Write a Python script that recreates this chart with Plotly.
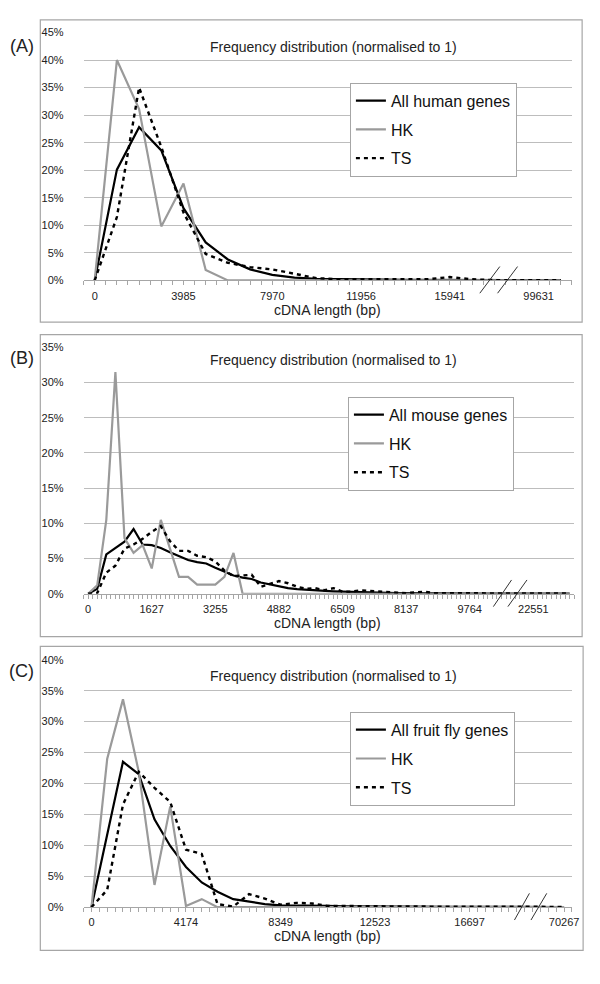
import plotly.graph_objects as go

# Frequency distributions of cDNA length (percent of genes per length bin)

# (A) human, 22 bins, labelled every 4th bin
human_all = [0, 20.1, 27.8, 23.6, 13.1, 6.9, 3.8, 2.0, 1.0, 0.5, 0.3, 0.2,
             0.15, 0.12, 0.1, 0.1, 0.1, 0.08, 0.06, 0.05, 0.05, 0.04]
human_hk = [0, 40.0, 31.1, 9.8, 17.6, 1.9, 0, 0, 0, 0, 0, 0,
            0, 0, 0, 0, 0, 0, 0, 0, 0, 0]
human_ts = [0, 11.5, 35.0, 24.2, 12.3, 4.8, 3.2, 2.4, 2.0, 1.2, 0.4, 0.2,
            0.2, 0.15, 0.15, 0.2, 0.6, 0.2, 0.05, 0.05, 0.05, 0.05]
human_ticks = ["0", "3985", "7970", "11956", "15941", "99631"]

# (B) mouse, 54 bins, labelled every 7th bin
mouse_all = [0, 0.7, 5.6, 6.5, 7.4, 9.2, 7.0, 6.9, 6.5, 5.9,
             5.3, 4.8, 4.5, 4.3, 3.7, 3.2, 2.6, 2.3, 2.1, 1.6,
             1.3, 1.0, 0.8, 0.65, 0.55, 0.5, 0.4, 0.35, 0.3, 0.25,
             0.2, 0.2, 0.15, 0.12, 0.1, 0.1, 0.08, 0.08, 0.07, 0.06,
             0.05, 0.05, 0.05, 0.04, 0.04, 0.03, 0.03, 0.03, 0.03, 0.02,
             0.02, 0.02, 0.02, 0.02]
mouse_hk = [0, 1.2, 10.5, 31.5, 7.9, 5.8, 6.9, 3.6, 10.5, 6.4,
            2.4, 2.4, 1.3, 1.3, 1.3, 2.4, 5.8, 0, 0, 0,
            0, 0, 0, 0, 0, 0, 0, 0, 0, 0,
            0, 0, 0, 0, 0, 0, 0, 0, 0, 0,
            0, 0, 0, 0, 0, 0, 0, 0, 0, 0,
            0, 0, 0, 0]
mouse_ts = [0, 0.1, 3.0, 4.0, 6.4, 7.0, 7.8, 8.8, 9.6, 7.5,
            6.1, 6.1, 5.4, 5.2, 4.6, 3.3, 2.5, 2.6, 2.7, 1.0,
            1.4, 1.8, 1.5, 1.0, 0.7, 0.8, 0.5, 0.8, 0.3, 0.3,
            0.5, 0.4, 0.3, 0.2, 0.1, 0.1, 0.2, 0.3, 0.1, 0.1,
            0.2, 0.1, 0.1, 0.1, 0.05, 0.05, 0.05, 0.05, 0.05, 0.05,
            0.05, 0.05, 0.05, 0.05]
mouse_ticks = ["0", "1627", "3255", "4882", "6509", "8137", "9764", "22551"]

# (C) fruit fly, 31 bins, labelled every 6th bin
fly_all = [0, 11.8, 23.5, 21.5, 14.2, 9.9, 6.5, 4.0, 2.5, 1.3,
           0.9, 0.5, 0.3, 0.3, 0.25, 0.2, 0.15, 0.12, 0.1, 0.1,
           0.08, 0.07, 0.06, 0.05, 0.05, 0.04, 0.04, 0.03, 0.03, 0.02,
           0.02]
fly_hk = [0, 24.0, 33.6, 21.9, 3.6, 16.3, 0.2, 1.3, 0, 0,
          0, 0, 0, 0, 0, 0, 0, 0, 0, 0,
          0, 0, 0, 0, 0, 0, 0, 0, 0, 0,
          0]
fly_ts = [0, 2.8, 16.6, 21.9, 19.3, 17.0, 9.3, 8.6, 0.5, 0.1,
          2.1, 1.4, 0.4, 0.7, 0.6, 0.2, 0.2, 0.15, 0.2, 0.1,
          0.1, 0.1, 0.1, 0.1, 0.1, 0.1, 0.1, 0.05, 0.05, 0.05,
          0.05]
fly_ticks = ["0", "4174", "8349", "12523", "16697", "70267"]

# the page body has an 8px margin, so the figure is drawn 8px in
OFF = 8
W, H = 600 - OFF, 984 - OFF
FONT = "Liberation Sans"
TXT = "#222222"
GRID = "#bdbdbd"
FRAME = "#a6a6a6"


def px(x):
    return (x - OFF) / W


def py(y):
    return 1 - (y - OFF) / H


# layout of each panel in page pixels
panels = [
    dict(tag="(A)", name="All human genes", all=human_all, hk=human_hk, ts=human_ts,
         ticks=human_ticks, step=4, ymax=45, frame=(40.7, 14, 589, 320),
         plot=(84.5, 26.7, 578.7, 277.7), title_y=41.7, legend=(354, 77.5),
         tag_y=40.7, breaks=[(17.35, 18.25), (18.15, 19.05)]),
    dict(tag="(B)", name="All mouse genes", all=mouse_all, hk=mouse_hk, ts=mouse_ts,
         ticks=mouse_ticks, step=7, ymax=35, frame=(40.7, 332.7, 589, 638.3),
         plot=(84.5, 345.5, 581, 595), title_y=358.3, legend=(352, 395.5),
         tag_y=356, breaks=[(44.6, 46.6), (46.2, 48.3)]),
    dict(tag="(C)", name="All fruit fly genes", all=fly_all, hk=fly_hk, ts=fly_ts,
         ticks=fly_ticks, step=6, ymax=40, frame=(40.7, 648.3, 590, 956),
         plot=(84.5, 661.8, 578.7, 912.3), title_y=678.3, legend=(354, 714.5),
         tag_y=673.3, breaks=[(26.85, 27.8), (27.9, 28.9)]),
]

fig = go.Figure()
shapes = []
annotations = []

for i, p in enumerate(panels):
    k = "" if i == 0 else str(i + 1)
    n = len(p["all"])
    idx = list(range(n))
    leg = "legend" + k
    xa, ya = "x" + k, "y" + k

    fig.add_trace(go.Scatter(x=idx, y=p["all"], mode="lines", name=p["name"],
                             line=dict(color="#000000", width=2.2),
                             xaxis=xa, yaxis=ya, legend=leg, legendgroup=leg + "a"))
    fig.add_trace(go.Scatter(x=idx, y=p["hk"], mode="lines", name="HK",
                             line=dict(color="#9a9a9a", width=2.2),
                             xaxis=xa, yaxis=ya, legend=leg, legendgroup=leg + "b"))
    fig.add_trace(go.Scatter(x=idx, y=p["ts"], mode="lines", name="TS",
                             line=dict(color="#000000", width=2.4, dash="4px,4px"),
                             xaxis=xa, yaxis=ya, legend=leg, legendgroup=leg + "c"))

    x0, y0, x1, y1 = p["plot"]
    fig.layout["xaxis" + k] = dict(
        domain=[px(x0), px(x1)], range=[-0.5, n - 0.5], anchor=ya,
        showgrid=False, zeroline=False, showline=True, linecolor=FRAME, linewidth=1,
        ticks="outside", ticklen=4, tickcolor=FRAME,
        tickvals=list(range(0, n, p["step"])), ticktext=p["ticks"],
        minor=dict(ticks="outside", dtick=0.5, tick0=-0.5, ticklen=4, tickcolor=FRAME),
        tickfont=dict(family=FONT, size=11, color=TXT), ticklabelstandoff=1,
        fixedrange=True)
    fig.layout["yaxis" + k] = dict(
        domain=[py(y1), py(y0)], range=[0, p["ymax"]], anchor=xa, dtick=5,
        ticksuffix="%", showgrid=True, gridcolor=GRID, gridwidth=1,
        zeroline=False, showline=False, ticks="",
        tickfont=dict(family=FONT, size=11, color=TXT), ticklabelstandoff=19,
        fixedrange=True)

    lx, ly = p["legend"]
    fig.layout[leg] = dict(
        x=px(lx), y=py(ly), xanchor="left", yanchor="top",
        bordercolor=FRAME, borderwidth=1, bgcolor="white",
        font=dict(family=FONT, size=16, color="#111111"),
        traceorder="grouped", tracegroupgap=5, entrywidth=128)

    fx0, fy0, fx1, fy1 = p["frame"]
    shapes.append(dict(type="rect", xref="paper", yref="paper",
                       x0=px(fx0), x1=px(fx1), y0=py(fy1), y1=py(fy0),
                       line=dict(color=FRAME, width=1.2), layer="below"))

    for b0, b1 in p["breaks"]:
        shapes.append(dict(type="line", xref=xa, yref="paper",
                           x0=b0, x1=b1, y0=py(y1 + 13), y1=py(y1 - 14),
                           line=dict(color="#333333", width=1)))

    annotations.append(dict(text="Frequency distribution (normalised to 1)",
                            xref="paper", yref="paper", x=px(337), y=py(p["title_y"]),
                            xanchor="center", yanchor="middle", showarrow=False,
                            font=dict(family=FONT, size=14, color=TXT)))
    annotations.append(dict(text="cDNA length (bp)", xref="paper", yref="paper",
                            x=px(331), y=py(y1 + 29.5), xanchor="center",
                            yanchor="middle", showarrow=False,
                            font=dict(family=FONT, size=14, color=TXT)))
    annotations.append(dict(text=p["tag"], xref="paper", yref="paper",
                            x=px(22), y=py(p["tag_y"]), xanchor="center",
                            yanchor="middle", showarrow=False,
                            font=dict(family=FONT, size=18, color=TXT)))

fig.update_layout(width=W, height=H, margin=dict(l=0, r=0, t=0, b=0),
                  paper_bgcolor="white", plot_bgcolor="white",
                  shapes=shapes, annotations=annotations, showlegend=True)

fig.write_html("out.html")
